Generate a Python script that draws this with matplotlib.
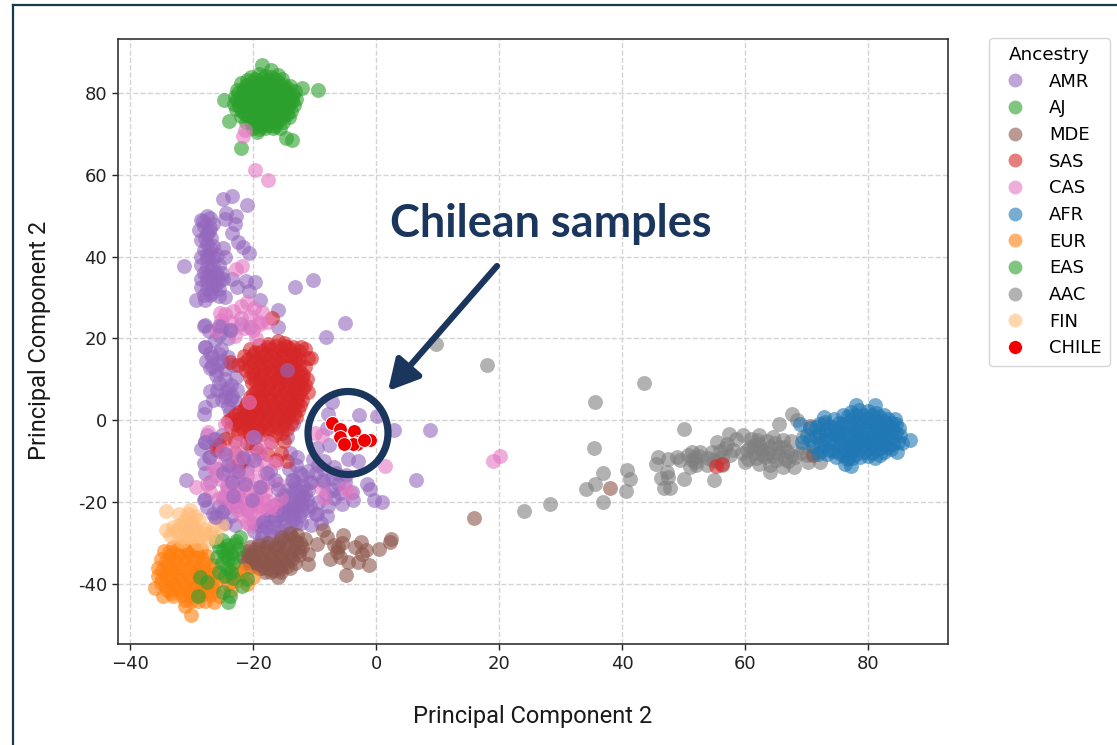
import matplotlib
matplotlib.use("Agg")
import matplotlib.pyplot as plt
from matplotlib.lines import Line2D
from matplotlib.patches import Ellipse

W, H = 1117, 745
NAVY = "#1b365d"

AMR = [(-28.5,49),(-27.5,50),(-27,49.5),(-28,47.5),(-27,47),(-26.5,48),(-28.8,46.5),(-27.5,45.5),(-26.8,44.5),(-28.5,44),
(-27.5,43),(-26.5,42.5),(-28,41.5),(-27,41),(-28.5,40),(-27.5,39.5),(-26.5,40),(-25.8,40.5),(-28.5,38),(-27.5,37.5),
(-26.5,38),(-25.5,38),(-28,36),(-27,35.5),(-26,36),(-25,36),(-28.5,34.5),(-27.5,34),(-26.5,34),(-25.5,34),
(-24.8,34.5),(-28.5,32.5),(-27.5,32),(-26.5,32.5),(-25.5,32),(-28,30.5),(-27,30.5),(-31.2,37.7),(-24.8,54),(-23.4,54.8),
(-20.9,52.6),(-24.4,50.7),(-22.7,49.9),(-24.5,49.3),(-23,48),(-23.4,45.8),(-22.4,43.6),(-21.6,42.4),(-20.6,40.9),(-24.8,42),
(-24.5,40),(-13.2,32.6),(-10.2,34.4),(-23.4,34.6),(-22.6,32.6),(-21.2,34),(-19.6,33.8),(-20.6,31.7),(-18.9,29.4),(-29.3,29.4),
(-27.8,29.4),(-25.6,30.4),(-24.5,30.2),(-5,23.8),(-8.1,20.4),(-16,22.7),(-27.8,23.2),(-27.2,21.8),(-25,23),(-23.5,22),
(-22,23.5),(-20.5,22.8),(-27.8,17.9),(-26.2,19.5),(-25.2,17.5),(-26.6,15.5),(-25,14.5),(-27.6,14.5),(-24.5,12.5),(-26,12.3),
(-23.2,13.4),(-22.8,10.5),(-24.5,10),(-25.8,7.5),(-27,7.1),(-24.5,7),(-23.4,6),(-25,5),(-22.8,4.5),(-27.8,3.3),
(-28,1.6),(-7.2,4.5),(-7.8,1.5),(-2.7,1.2),(0.1,1.1),(3,-2.5),(8.8,-2.5),(-8,-1.8),(-7.6,-6),(-4.5,-9.4),
(-2.9,-10),(-6.9,-11.4),(6.5,-14.5),(-1.5,-15.5),(-0.9,-16.7),(-0.4,-19.5),(1,-19.9),(-3.8,-19.6),(-3.9,-17.5),(-9.6,-6.9),
(-30.9,-14.6),(-27.8,-5.3),(-26.5,-4.5),(-27,-9),(-25.5,-7.5),(-27.8,-13),(-25.8,-12),(-27.8,-19.2),(-27.5,-21.2),(-25.9,-23.6),
(-24.5,-25),(-24.5,-21.5),(-23.5,-23.5),(-23,-20),(-24.2,-16),(-22.5,-14),(-23.5,-11.5),(-21.5,-10),(-20.5,-6),(-19.6,-4),
(-19,-8),(-17.2,-12.5),(-18.5,-16),(-19.5,-19),(-21,-22),(-19.8,-25),(-18.5,-27),(-17,-28),(-15.5,-27),(-14,-26),
(-13,-25),(-18,-24.5),(-16.5,-24.5),(-15,-24),(-13.5,-23),(-12.5,-23.5),(-17.5,-22),(-16,-22),(-14.5,-21.5),(-13,-21),
(-12,-20.5),(-15.5,-19.5),(-14,-19),(-12.5,-18.5),(-11.5,-18),(-14.5,-17),(-13,-16.5),(-11.8,-16),(-13.5,-14.5),(-12,-13.5),
(-11,-12.5),(-13,-11),(-14.2,-12),(-10.5,-15),(-9.5,-11),(-8.5,-10),(-9.8,-13),(-8.5,-15),(-7.2,-14),(-6.2,-15.5),
(-5,-15),(-8.2,-18),(-6.8,-19),(-5.5,-20.5),(-9.5,-20),(-9.8,-23),(-9,-25),(-8,-23.5),(-7.8,-21),(-10.5,-25.5),
(-11,-22),(-16,-31),(-19,-30),(-20.5,-33),(-14.5,-4),(-13.5,-1),(-14,-8),(-14.8,11),(-13.6,13),(-16,27),
(-17.8,-26),(-16.2,-26),(-14.8,-25.5),(-13.5,-24.5),(-12.2,-25),(-17,-23.3),(-15.7,-23.2),(-14.2,-22.8),(-13,-22.2),(-12,-22),
(-16.6,-20.7),(-15.2,-20.4),(-13.8,-20.2),(-12.6,-19.6),(-11.3,-19.6),(-15,-18.2),(-13.6,-17.8),(-12.2,-17.2),(-11,-17),(-13.2,-15.4),
(-18.5,-28.5),(-17,-29.5),(-15.5,-29),(-14,-28),(-19.8,-27),(-18.8,-25.5),(-28.5,-7),(-27.5,-3.5),(-26,-6),(-28,-10.5),
(-27,-15),(-26.5,-23),(-25.5,-21),(-24.8,-19),(-22.5,-18),(-21,-12),(-25,-3.5),(-22.5,-21),(-23,-25.5),(-26,11),
(-24,15.5),(-27,16.5),(-27,12.8),(-25.5,9),(-24,20),(-25.5,20.8),(-23.5,8.5),(-26.5,5),(-24,3.5),(-23.8,2),
(-28.2,48.8),(-27.2,46.2),(-27.8,44.5),(-27,42),(-27.5,40.5),(-26.8,37),(-27.5,35.2),(-26,33),(-26.8,31.2),(-25.7,35),
(-10.8,-21),(-8.6,-12),(-6.5,-13),(-4.8,-13.5),(-7,-17),(-5.8,-17.8),(-10.2,-9.5)]

AMR_OVER = [(-23.5,5.1),(-22.6,7.3),(-24.5,5.7),(-14.5,12.4),(-19.9,-4.1),(-27.8,-5.3),(-26.2,-4.5),(-24.6,-8.2),(-27.2,-9),(-24.8,-13),
(-23.4,-15),(-17.8,-13),(-21.6,-8.9),(-19.9,-9.8),(-20.2,-19.6),(-18.9,-16.3),(-15.9,-16.7),(-25,-22.4),(-26.2,-23.6),(-28,-19.6),
(-13.7,-14.7),(-11.8,-18.7),(-12.4,-13),(-12.9,-9),(-10.8,-15),(-8.6,-14.7),(-9.6,-22.8),(-18.3,-24.8),(-15.1,-22.8),(-13.5,-21.2),
(-16.7,-26),(-28,23),(-25.6,23),(-23.7,22),(-27.8,17.9),(-25.6,16.3),(-25.6,14),(-26.7,13.2),(-24,7.7),(-24,-11),
(-22.5,-12.5),(-21.3,-15.5),(-23.3,-18.5),(-16.5,-14.5)]

AJ = [(-18.5,86.8),(-9.5,80.7),(-12.1,81.1),(-24.7,78.2),(-23.9,73.2),(-22,66.5),(-14.7,69),(-13.7,68.4),(-19.4,70.5),(-17.1,85.6),
(-21,83.2),(-15.3,83.5),(-20.4,84),(-19,84.6),(-18,84.2),(-17,84),(-16,84.3),(-22,82.4),(-21,82),(-20,82.7),
(-19,82.2),(-18,82.8),(-17,82.3),(-16,82.7),(-15,82),(-14,81.7),(-22.6,80.8),(-21.6,80.4),(-20.5,81),(-19.5,80.6),
(-18.5,81),(-17.5,80.5),(-16.5,81),(-15.5,80.6),(-14.5,80.2),(-13.2,80.4),(-23,79),(-22,79.2),(-21,78.8),(-20,79.4),
(-19,78.9),(-18,79.3),(-17,78.8),(-16,79.3),(-15,78.8),(-14,79),(-13,78.6),(-23.1,77.4),(-22.2,77.7),(-21.2,77.2),
(-20.2,77.8),(-19.2,77.3),(-18.2,77.6),(-17.2,77.2),(-16.2,77.7),(-15.2,77.2),(-14.2,77.4),(-13.4,77),(-22.8,76),(-21.8,75.7),
(-20.8,76.2),(-19.8,75.6),(-18.8,76.1),(-17.8,75.7),(-16.8,76.2),(-15.8,75.7),(-14.8,76),(-13.9,75.6),(-22,74.3),(-21,74.7),
(-20,74.2),(-19,74.7),(-18,74.2),(-17,74.6),(-16,74.2),(-15,74.5),(-14.2,74.1),(-21.2,73),(-20.2,72.6),(-19.2,73.1),
(-18.2,72.7),(-17.2,73),(-16.2,72.7),(-15.2,72.8),(-20,71.4),(-19,71.2),(-18,71.5),(-16.8,71.4),(-15.6,71.4),
(-19.6,83.3),(-18.6,83.5),(-17.5,83.1),(-16.5,83.4),(-21.5,81.3),(-20.4,81.8),(-19.4,81.4),(-18.3,81.8),(-17.3,81.4),(-16.2,81.8),
(-15.2,81.3),(-14.3,80.9),(-22.4,79.9),(-21.3,79.7),(-20.3,80),(-19.3,79.8),(-18.3,80.1),(-17.3,79.7),(-16.3,80),(-15.3,79.7),
(-14.3,79.8),(-13.5,79.5),(-22.6,78.3),(-21.6,78.1),(-20.6,78.5),(-19.6,78.2),(-18.6,78.5),(-17.6,78.1),(-16.6,78.4),(-15.6,78.1),
(-14.6,78.4),(-13.6,78),(-22.3,76.8),(-21.3,76.6),(-20.3,76.9),(-19.3,76.6),(-18.3,76.8),(-17.3,76.5),(-16.3,76.8),(-15.3,76.5),
(-14.3,76.7),(-21.5,75.2),(-20.5,75),(-19.5,75.3),(-18.5,75),(-17.5,75.2),(-16.5,74.9),(-15.5,75.2),(-14.5,74.9),(-20.6,73.6),
(-19.6,73.8),(-18.6,73.5),(-17.6,73.8),(-16.6,73.5),(-15.6,73.7),(-19.5,72),(-18.5,72),(-17.5,72.1),(-16.5,72)]

MDE = [(-8.6,-26.9),(-9.6,-30.2),(-8,-28.6),(-5.3,-28.1),(-6.1,-31),(-7.5,-33.8),(-5.9,-33.4),(-4.8,-37.9),(-4.5,-34.6),(-2.9,-34.6),
(-1.2,-35.5),(-2.4,-29.8),(-3.4,-31),(-1.7,-31.8),(0.5,-31.4),(2.2,-29.8),(2.5,-29),(-11,-35.1),(-11,-32.6),(-6.3,-32.2),
(-5.5,-30),(-2.2,-32.8),(-6.8,-30.5),(-14,-27.5),(-12.8,-28),(-15.5,-28.5),(-13,-29.8),(-14.5,-30),(-16,-30.3),(-17.5,-30),
(-19,-30.5),(-20.5,-31),(-12,-31),(-13.3,-31.8),(-14.8,-31.6),(-16.2,-32),(-17.8,-32),(-19.3,-32.2),(-20.8,-32.8),(-21.7,-33.5),
(-12.5,-33),(-14,-33.3),(-15.5,-33.6),(-17,-33.8),(-18.5,-33.6),(-20,-34),(-21.2,-35),(-13.2,-34.8),(-14.8,-35),(-16.2,-35.2),
(-17.8,-35),(-19.3,-35.4),(-20.5,-35.8),(-14,-36),(-15.6,-36.4),(-16.8,-36.5),(-18.5,-36.2),(-15.9,-38.3),(-15.5,-37.2),(16,-23.9),
(38.1,-16.5),(70.5,-1.5),(71,-8.5),
(-13.5,-28.8),(-15,-29.3),(-16.6,-31),(-18,-31),(-19.6,-31.4),(-21,-32),(-12.6,-32),(-14,-32.5),(-15.5,-32.7),(-17,-32.9),
(-18.6,-32.8),(-20.2,-33.3),(-13.6,-34),(-15.2,-34.3),(-16.8,-34.6),(-18.2,-34.5),(-19.6,-34.6),(-14.5,-35.7),(-16,-35.9),(-17.5,-36),
(-19,-36),(-20.8,-34.2),(-12.4,-30),(-11.5,-29),(-17,-37),(-18,-37.2)]

SAS = [(-16.9,25),(-14.5,18),(-11.5,17.5),(-10.5,15.2),(-13,16),(-16,19.4),(-17.5,18.7),(-19,18.5),(-15,19),(-20.5,17.5),
(-18.5,17),(-17,17.3),(-15.5,17.2),(-14,17.3),(-12.5,17),(-21.5,15.7),(-20,16),(-18.5,15.5),(-17,15.6),(-15.5,15.5),
(-14,15.4),(-12.5,15),(-23.8,14.3),(-22.5,13.5),(-21.5,14),(-20,14.2),(-18.5,13.7),(-17,14),(-15.5,13.5),(-14,13.5),
(-12.5,13.4),(-21.2,12.2),(-19.8,12),(-18.3,12.2),(-16.8,12),(-15.3,12),(-13.8,11.8),(-12.4,11.7),(-20.5,10.5),(-19,10.4),
(-17.5,10.5),(-16,10.3),(-14.5,10.2),(-13,10.2),(-12,10.5),(-20.2,9),(-18.7,8.8),(-17.2,9),(-15.7,8.8),(-14.2,8.7),
(-12.7,8.8),(-11.6,8.5),(-11,7),(-19.5,7.2),(-18,7.3),(-16.5,7.2),(-15,7),(-13.5,7),(-12.3,6.8),(-20.5,5.8),
(-19,5.6),(-17.5,5.7),(-16,5.5),(-14.5,5.5),(-13,5.3),(-21,4.2),(-19.6,4),(-18.2,4.2),(-16.7,4),(-15.2,4),
(-13.7,3.8),(-12.4,3.7),(-21.5,2.7),(-20,2.6),(-18.5,2.8),(-17,2.5),(-15.5,2.6),(-14,2.3),(-12.7,2.5),(-23,1.2),
(-21.7,1.2),(-20.3,1.1),(-18.8,1.2),(-17.3,1.1),(-15.8,1),(-14.3,1),(-13,0.8),(-24,-0.3),(-22.5,-0.2),(-21,-0.2),
(-19.5,-0.3),(-18,-0.3),(-16.5,-0.3),(-15,-0.6),(-13.8,-0.6),(-23.5,-1.6),(-22,-1.6),(-20.5,-1.8),(-19,-1.8),(-17.5,-1.8),
(-16,-2),(-14.5,-2.2),(-22.5,-3.2),(-20.5,-3.5),(-18.5,-3.3),(-16.5,-3.5),(-24.5,-4.5),(-23,-5),(-21,-5.5),(-19.5,-6.9),
(-17,-5.3),(-15,-5),(-25.6,-6),(-26,-7),(-23,-8),(-21.7,-9.4),(-22.5,-11),(-17.7,-8.2),(-16.2,-9.8),(-15.5,-8),
(-14.5,-10),(55.3,-11.2),(56.2,-10.6),
(-17.6,17.9),(-16.2,18.2),(-14.8,18.1),(-13.5,17.8),(-19.6,16.7),(-18,16.3),(-16.5,16.4),(-15,16.3),(-13.5,16.2),(-20.8,15),
(-19.2,14.9),(-17.8,14.8),(-16.2,14.7),(-14.8,14.6),(-13.2,14.4),(-20.6,13.1),(-19,13),(-17.5,13),(-16,12.8),(-14.6,12.9),
(-13.1,12.7),(-20,11.3),(-18.6,11.3),(-17,11.3),(-15.6,11.1),(-14.1,11.1),(-12.7,11),(-19.6,9.7),(-18,9.6),(-16.5,9.6),
(-15,9.5),(-13.5,9.4),(-12.2,9.4),(-19.1,8),(-17.6,8.1),(-16,8),(-14.6,7.9),(-13.1,8),(-11.8,7.8),(-20,6.5),
(-18.5,6.4),(-17,6.5),(-15.5,6.2),(-14,6.2),(-12.7,6),(-20.3,5),(-18.7,4.9),(-17.2,4.9),(-15.7,4.8),(-14.2,4.7),
(-12.8,4.5),(-21.2,3.4),(-19.7,3.3),(-18,3.5),(-16.3,3.3),(-14.8,3.2),(-13.3,3),(-22.3,2),(-20.9,1.9),(-19.3,2),
(-17.7,1.8),(-16.2,1.8),(-14.7,1.7),(-13.4,1.6),(-23.5,0.4),(-22,0.5),(-20.6,0.5),(-19,0.5),(-17.6,0.4),(-16,0.3),
(-14.6,0.2),(-23,-0.9),(-21.3,-1),(-19.8,-1),(-18.2,-1),(-16.8,-1.1),(-15.3,-1.3),(-21.5,-2.6),(-19.5,-2.6),(-17.5,-2.7),
(-15.3,-3),(-11,15.1),(-11.5,13),(-11.8,11),(-12.2,17.8),(-11.2,10),(-12,5)]

CAS = [(-19.6,61.2),(-17.5,58.8),(-21.7,69.5),(-21.3,71),(-21.8,37.7),(-22.8,37),(-21,29),(-22,28),(-19.8,27.5),(-18.5,26.5),
(-24.5,26),(-23.2,26.8),(-25.2,24.5),(-22,25),(-20.5,25.5),(-23.5,24),(-19,24),(-17.5,24),(-25.4,26.1),(-26,22),
(-21.5,22.5),(-20,22),(-19.5,20),(-23,20.5),(-20.6,4.5),(-24.5,-1),(-27.3,-2.8),(-22.5,-5.5),(-20,-4),(-17.5,-5.5),
(-25,-7.5),(-22,-9),(-19.5,-11),(-24.5,-10),(-26.5,-11.5),(-23,-13),(-21,-13.5),(-18,-13),(-16,-15.5),(-25,-14.5),
(-27.5,-15.5),(-29.3,-16.3),(-27,-17.5),(-24,-17),(-22,-16.5),(-20,-16.5),(-18,-17.5),(-25.5,-19),(-23.5,-19.5),(-21.5,-19.5),
(-19.5,-20),(-17.5,-19.8),(-15.5,-19),(-22.5,-22),(-20.5,-22.5),(-18.5,-22),(-16.5,-21.5),(-21,-25),(-8.8,-3.7),(-10,-3),
(1.5,-11.3),(-4.2,-17.9),(-5,-16.5),(-9,-16.5),(-8.5,-19),(19.1,-10),(20.2,-8.8),(-23.5,-7.5),(-19,-7.5),(-18.9,23.6),
(-23.5,-15),(-21.5,-15),(-19.5,-14.5),(-17.5,-15),(-24.5,-18),(-22.5,-18),(-20.5,-18),(-18.5,-19),(-21,-20.8),(-19,-21),
(-17,-21),(-23.5,-21),(-22.8,-11),(-20.5,-9),(-18.2,-10),(-16.5,-10.5),(-24,-12.5),(-26,-13.5),(-21.8,-23.5),(-19.5,-23.5),
(-20.5,-25.5)]

AFR = [(78,3.7),(81.1,3.7),(77.3,-11.3),(76.3,-10.6),(84.7,-7.7),(84.4,0.4),(86.8,-4.9),(85.5,-5.5),(69,-1),(70,-3.5),
(69.3,-5.2),(71.5,-1.6),(71.6,-4.2),(71,-6.2),(73,-0.5),(73,-2.5),(73,-4.5),(72.8,-6.5),(73.4,-8.3),(74.5,0.4),
(74.5,-1.8),(74.5,-3.6),(74.5,-5.5),(74.4,-7.4),(74.8,-9),(76,1.2),(76,-0.8),(76,-2.8),(76,-4.8),(76,-6.7),
(76,-8.5),(77.2,2),(77.3,0),(77.4,-1.8),(77.3,-3.8),(77.3,-5.8),(77.4,-7.6),(77.4,-9.2),(78.6,2.4),(78.7,0.4),
(78.6,-1.4),(78.6,-3.2),(78.7,-5.1),(78.6,-7),(78.7,-9),(80,2.3),(80,0.5),(80,-1.2),(80.1,-3),(80,-5),
(80,-6.9),(80,-8.8),(81.3,1.8),(81.4,0),(81.4,-1.7),(81.3,-3.5),(81.4,-5.4),(81.3,-7.3),(81.2,-9.2),(82.6,1.2),
(82.7,-0.5),(82.7,-2.4),(82.6,-4.2),(82.7,-6),(82.6,-7.8),(83.9,-0.7),(84,-2.2),(83.9,-4),(84,-5.7),(83.7,-7),
(85,-2),(85.2,-3.6),(84.8,-5.4),(70.5,-2),(72,-3),(75,-2.7),(79,-4.2),(81,-2.6),(83,-3.2),(77,-6.7),
(79.4,-6),(75.4,-4.7),(80.6,-8),
(72,-1),(72.2,-5.5),(72.4,-7.5),(73.7,-1.3),(73.8,-3.3),(73.7,-5.4),(73.7,-7.3),(75.2,-0.6),(75.2,-2),(75.2,-3.7),
(75.2,-6),(75.3,-8),(76.7,1),(76.6,-1.5),(76.7,-3.5),(76.7,-5.7),(76.7,-7.6),(76.7,-9.2),(78,1.2),(78,-0.7),
(78,-2.6),(78,-4.6),(78,-6.3),(78,-8.3),(79.3,1.2),(79.3,-0.5),(79.3,-2.2),(79.3,-4.8),(79.3,-7.7),(80.7,1.3),
(80.7,-0.5),(80.7,-4),(80.7,-6),(81.9,0.8),(82,-1.2),(82,-3),(82,-5),(82,-6.8),(82,-8.6),(83.3,0.2),
(83.3,-1.6),(83.3,-4.5),(83.3,-6.5),(84.6,-1),(84.6,-3),(72.9,0.7),(70.5,-4.8),(71.8,-8.2)]

EUR = [(-35.9,-41),(-30,-47.7),(-31,-45.3),(-34.6,-43),(-26.4,-44.5),(-20,-38.3),(-34.5,-32),(-33,-31),(-31.5,-30.5),(-29.8,-30.8),
(-28.5,-31.5),(-35,-33.8),(-33.5,-33.3),(-32,-32.8),(-30.5,-32.5),(-29,-33),(-27.5,-33.2),(-35.5,-36),(-34,-35.5),(-32.5,-35),
(-31,-34.5),(-29.5,-35),(-28,-35),(-26.5,-35.5),(-35.5,-38),(-34,-37.5),(-32.5,-37),(-31,-36.8),(-29.5,-37),(-28,-37),
(-26.5,-37.5),(-35,-39.8),(-33.5,-39.5),(-32,-39),(-30.5,-39),(-29,-39),(-27.5,-39.2),(-26,-39.5),(-34,-41.5),(-32.5,-41),
(-31,-41),(-29.5,-41),(-28,-41),(-26.5,-41),(-33,-43),(-31.5,-42.8),(-30,-43),(-28.5,-42.8),(-27,-42.8),(-31,-44),
(-29,-44.3),(-27.8,-44.2),(-23,-36.5),(-21.5,-36.5),(-22.5,-39),(-21,-40),(-23.5,-41.5),(-25,-38),
(-33.7,-32.2),(-32.3,-31.8),(-30.8,-31.6),(-29.3,-31.8),(-34.2,-34.5),(-32.8,-34.2),(-31.3,-33.7),(-29.8,-33.8),(-28.3,-34),(-34.8,-36.7),
(-33.3,-36.3),(-31.8,-35.9),(-30.2,-35.9),(-28.8,-36),(-27.2,-36.3),(-34.8,-38.7),(-33.2,-38.3),(-31.8,-38),(-30.3,-38),(-28.7,-38),
(-27.2,-38.2),(-34.2,-40.6),(-32.8,-40.2),(-31.3,-40),(-29.8,-40),(-28.3,-40),(-26.8,-40.2),(-33.3,-42.2),(-31.8,-42),(-30.3,-42),
(-28.8,-42),(-27.3,-41.8),(-30,-44.3),(-23.8,-38.3),(-22.3,-37.5),(-24,-40),(-25.5,-43)]

EAS = [(-25,-29.3),(-22.1,-28.5),(-24,-30.5),(-23,-30.2),(-24.8,-32),(-23.5,-32.5),(-22.5,-31.5),(-24,-34),(-25,-35),(-23.2,-35),
(-25.5,-37),(-28.6,-38.3),(-27.5,-39.5),(-24,-44.4),(-24.8,-42),(-21,-38.8),(-21.8,-40.5),(-24.5,-38),(-23.2,-38.5),(-29,-43),
(-25.5,-31),(-23.5,-37),(-24.3,-31.5),(-23.2,-33.5),(-24.5,-33),(-25.8,-33.5),(-24.3,-36),(-23.8,-43),(-26,-29.5),(-22.8,-29.5)]

AAC = [(9.7,18.6),(18.1,13.4),(35.6,4.5),(43.6,9.1),(50,-2.1),(35.5,-6.9),(36.9,-13),(40.8,-12.1),(41.3,-14.3),(35.6,-15.5),
(34.1,-16.7),(40.6,-17.4),(36.9,-20.1),(28.3,-20.4),(24,-22.1),(45.6,-10.6),(45.9,-9.1),(47.5,-9.4),(48.9,-9.1),(46.4,-14),
(47.5,-13.9),(47.3,-12.6),(46.9,-16.6),(47.8,-16.6),(50,-14.3),(55,-14.7),(51.3,-7.7),(52.7,-7.7),(49.4,-9.8),(51.1,-11.4),
(52.1,-11),(51.3,-9.8),(53.8,-11),(54.6,-7.7),(55.4,-5.3),(54.8,-9.8),(56.2,-9),(56.2,-11),(57,-5.7),(58.1,-7.3),
(57.4,-3.3),(58.6,-4.5),(59.7,-3.7),(60,-10.2),(61.4,-8.1),(62.2,-3.7),(62.2,-10.6),(62.2,-5.7),(63,-7.3),(64,-12.6),
(64,-11),(64,-6.5),(65.4,-8.1),(65.6,-0.8),(67.6,1.5),(66.2,-11.4),(67.9,-11.4),(68.4,0),(68.1,-9),(69.5,-6.5),
(70.3,-10.2),(72.2,-10.2),(71.1,-8.1),(72.2,-3.7),(66.2,-4.9),(64.6,-4.1),(63.2,-9),(60.8,-6.5),(61,-4.5),(62.8,-8.5),
(64.5,-8.7),(65.5,-6.5),(66.8,-7.5),(67.5,-5),(66.5,-9.5),(59.5,-8),(60.5,-9.5),(63.5,-5),(51.8,-9),(56,-7.5),
(57.5,-8.5),(72.8,-1),(76.5,-9.5),
(51.8,-10.3),(52.5,-8.8),(50.8,-8.6),(55.5,-10),(54,-9.2),(56.8,-6.8),(61.5,-6),(62.4,-7),(63.8,-8),(65,-9.8),
(61.8,-9.3),(64.9,-5.5),(66.3,-6.5),(67.5,-8.5),(67,-10),(69,-8),(70,-8.5),(69.5,-4),(60.3,-7.2),(62,-4.8)]

FIN = [(-34.1,-22.2),(-30.2,-22),(-32.1,-22.8),(-31,-24.4),(-34.1,-26.9),(-33,-26),(-31.8,-25.5),(-30,-25),(-28.8,-24.5),(-29.5,-23.5),
(-33.5,-28),(-32.2,-27.8),(-30.8,-27),(-29.3,-26.8),(-28,-26.5),(-26.5,-26),(-25,-25.5),(-31.5,-29.5),(-30,-28.5),(-28.5,-28.3),
(-27,-27.5),(-29,-30),(-27.5,-29.5),(-26.2,-28.5),(-30.5,-23),(-32.5,-26.8),(-31.2,-26.2),(-29.7,-26),(-30.8,-28.4),(-29.4,-28),
(-28,-27.6)]

CHILE = [(-7.2,-0.7),(-5.8,-2.1),(-3.6,-2.7),(-5.8,-4.1),(-1,-4.9),(-2.9,-5.3),(-3.1,-5.7),(-3.7,-5.9),(-2,-4.8),(-5.2,-5.9)]

GROUPS = ["AMR", "AJ", "MDE", "SAS", "CAS", "AFR", "EUR", "EAS", "AAC", "FIN", "CHILE"]
POINTS = [AMR, AJ, MDE, SAS, CAS, AFR, EUR, EAS, AAC, FIN, CHILE]
COLORS = ["tab:purple", "tab:green", "tab:brown", "tab:red", "tab:pink", "tab:blue",
          "tab:orange", "tab:green", "tab:gray", "#ffbb78", "#f00000"]
LAYERS = {"AAC": 2.5}
XTICKS = [-40, -20, 0, 20, 40, 60, 80]
YTICKS = [-40, -20, 0, 20, 40, 60, 80]
YTICK_LABELS = ["-40", "-20", "0", "20", "40", "60", "80"]


def fx(px):
    return px / W


def fy(py):
    return 1 - py / H


fig = plt.figure(figsize=(W / 100, H / 100), dpi=100)
ax = fig.add_axes([fx(118), fy(644), (948 - 118) / W, (644 - 39) / H])
ax.set_xlim(-41.95, 93)
ax.set_ylim(-54.7, 93.2)
ax.set_axisbelow(True)
ax.grid(True, linestyle="--", color="#d4d4d4", linewidth=1.0)
for s in ax.spines.values():
    s.set_color("#333333")
    s.set_linewidth(1.2)
ax.set_xticks(XTICKS)
ax.set_yticks(YTICKS)
ax.set_yticklabels(YTICK_LABELS)
ax.tick_params(labelsize=13, colors="#222222", length=4.5, width=1.0)

handles = []
for name, pts, col in zip(GROUPS, POINTS, COLORS):
    xs = [p[0] for p in pts]
    ys = [p[1] for p in pts]
    if name == "CHILE":
        ax.scatter(xs, ys, s=100, color=col, edgecolors="white", linewidths=0.7, zorder=5)
        handles.append(Line2D([], [], ls="", marker="o", ms=10, mfc=col, mec="white", mew=0.5, label=name))
    else:
        ax.scatter(xs, ys, s=115, color=col, alpha=0.6, linewidths=0, zorder=LAYERS.get(name, 3))
        handles.append(Line2D([], [], ls="", marker="o", ms=10, mfc=col, mec="none", alpha=0.6, label=name))
ax.scatter([p[0] for p in AMR_OVER], [p[1] for p in AMR_OVER], s=115, color="tab:purple",
           alpha=0.6, linewidths=0, zorder=3.5)

fig.text(fx(533), fy(716), "Principal Component 2", ha="center", va="center", fontsize=17,
         family="Roboto", color="#1a1a1a")
fig.text(fx(40), fy(340), "Principal Component 2", ha="center", va="center", rotation=90, fontsize=17,
         family="Roboto", color="#1a1a1a")

leg = fig.legend(handles=handles, title="Ancestry", loc="upper left",
                 bbox_to_anchor=(fx(989), fy(38)), bbox_transform=fig.transFigure,
                 borderaxespad=0, fontsize=13, title_fontsize=13.2, labelspacing=0.48,
                 handlelength=2, handletextpad=0.89, borderpad=0.45, framealpha=1, edgecolor="#d5d5d5")

fig.text(fx(551), fy(224), "Chilean samples", ha="center", va="center", fontsize=32.4,
         fontweight="bold", family="Lato", color=NAVY)
ax.annotate("", xy=(fx(388), fy(391)), xytext=(fx(497), fy(266)),
            xycoords="figure fraction", textcoords="figure fraction",
            arrowprops=dict(arrowstyle="-|>,head_length=1.3,head_width=0.7", color=NAVY, lw=4.5,
                            shrinkA=0, shrinkB=0, mutation_scale=14), zorder=7)
fig.add_artist(Ellipse((fx(348), fy(433)), 80 / W, 83 / H, transform=fig.transFigure,
                       fill=False, edgecolor=NAVY, linewidth=5.2, zorder=8))

frame = "#173a4c"
fig.add_artist(Line2D([fx(13), 1], [fy(5), fy(5)], color=frame, lw=1.6))
fig.add_artist(Line2D([fx(13), fx(13)], [fy(5), 0], color=frame, lw=1.6))

fig.savefig("out.png", dpi=100)
